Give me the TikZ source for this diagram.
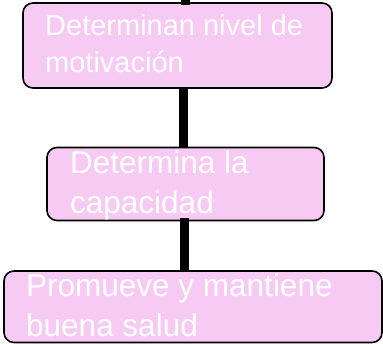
\documentclass[tikz,border=0pt]{standalone}
\usepackage{fontspec}
\setmainfont{Liberation Sans}
\usepackage{xcolor}
\usetikzlibrary{calc}
\usetikzlibrary{positioning}

\definecolor{rosa}{HTML}{F7CAF3}

\tikzset{
  caja/.style={draw=black, line width=1.6pt, fill=rosa, rounded corners=10pt,
    inner sep=0pt},
  texto/.style 2 args={text=white, inner sep=0pt, align=left, anchor=base west,
    font=\fontsize{#1}{#2}\selectfont},
  enlace/.style={line width=9pt}
}

\begin{document}
\begin{tikzpicture}[x=1pt, y=-1pt]
      \useasboundingbox (0,0) rectangle (383,344);

      \coordinate (arriba) at (185,0);

      \node[caja, minimum width=309pt, minimum height=85pt] (motiv) at (177.5,45.5) {};
      \node[caja, minimum width=277pt, minimum height=73pt] (capac) at (185.5,184) {};
      \node[caja, minimum width=378pt, minimum height=71.5pt] (salud) at (193,306.75) {};

      \draw[enlace] (arriba) -- ($(arriba |- motiv.north)+(0,3)$);
      \draw[enlace] ([xshift=5.5pt]motiv.south) -- ([xshift=-2.5pt]capac.north);
      \draw[enlace] ([xshift=-1.5pt,yshift=3pt]capac.south) -- ([xshift=-9pt]salud.north);

      \node[texto={29}{37}] (tmotiv) at (45,73) {Determinan nivel de\\motivación};
      \node[texto={31.5}{40}] (tcapac) at (70,213.5) {Determina la\\capacidad};
      \node[texto={31.5}{40}] (tsalud) at (26,337) {Promueve y mantiene\\buena salud};
    \end{tikzpicture}
\end{document}
